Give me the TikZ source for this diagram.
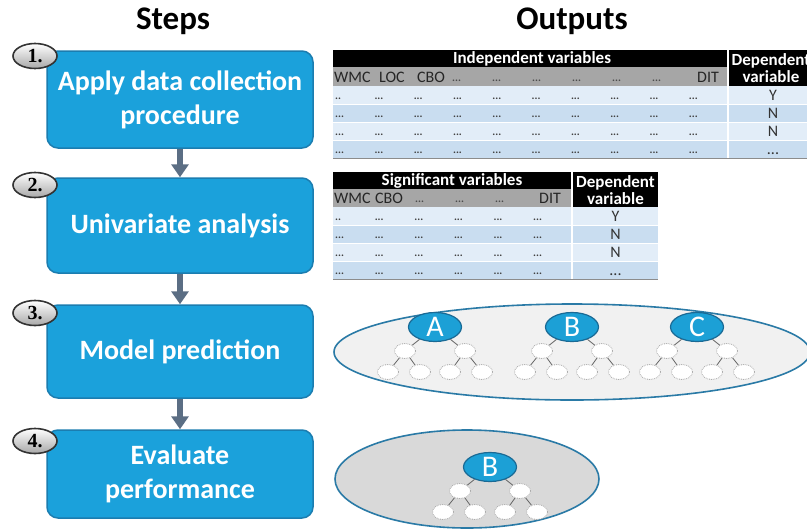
\documentclass[tikz,border=0pt]{standalone}
\usepackage{fontspec}
\setmainfont{Carlito}
\newfontfamily\numfont{Liberation Serif}
\usetikzlibrary{shapes.geometric,arrows.meta}

\definecolor{stepblue}{HTML}{1BA1DB}
\definecolor{stepedge}{HTML}{1B7DB0}
\definecolor{arrowgray}{HTML}{5B6E84}
\definecolor{badgeedge}{HTML}{333333}
\definecolor{badgegray}{HTML}{A8A8A8}
\definecolor{labgray}{HTML}{A6A6A6}
\definecolor{rowlight}{HTML}{E2EDF8}
\definecolor{rowdark}{HTML}{C9DDF0}
\definecolor{rootblue}{HTML}{1CA0D6}
\definecolor{rootedge}{HTML}{1A6A95}
\definecolor{ovaledge}{HTML}{2A7AA6}
\definecolor{ovallight}{HTML}{F1F1F1}
\definecolor{ovaldark}{HTML}{D9D9D9}
\definecolor{celltext}{HTML}{404040}

\newcommand\tdots{...}

% a small decision tree: name, x, y, letter
\newcommand\mytree[4]{%
  \node[rootnode] (#1) at (#2,#3) {#4};
  \node[leafnode] (#1a) at ({#2-30},{#3+24}) {};
  \node[leafnode] (#1b) at ({#2+30},{#3+24}) {};
  \node[leafnode] (#1aa) at ({#2-47},{#3+45}) {};
  \node[leafnode] (#1ab) at ({#2-15},{#3+45}) {};
  \node[leafnode] (#1ba) at ({#2+15},{#3+45}) {};
  \node[leafnode] (#1bb) at ({#2+47},{#3+45}) {};
  \draw[treeedge] (#1) -- (#1a);
  \draw[treeedge] (#1) -- (#1b);
  \draw[treeedge] (#1a) -- (#1aa);
  \draw[treeedge] (#1a) -- (#1ab);
  \draw[treeedge] (#1b) -- (#1ba);
  \draw[treeedge] (#1b) -- (#1bb);
}

\begin{document}
\begin{tikzpicture}[x=1pt,y=-1pt,
  stepbox/.style={draw=stepedge, line width=1.5pt, fill=stepblue, rounded corners=11pt,
    minimum width=266pt, text=white, align=center, inner sep=0pt,
    font=\bfseries\fontsize{28}{34}\selectfont},
  badge/.style={ellipse, draw=badgeedge, line width=1.6pt, top color=white, bottom color=badgegray,
    minimum width=44pt, minimum height=25pt, inner sep=0pt,
    font=\numfont\bfseries\fontsize{20}{20}\selectfont},
  flow/.style={draw=arrowgray, line width=6pt, -{Triangle[width=17pt,length=13pt]}},
  title/.style={font=\bfseries\fontsize{33}{33}\selectfont, inner sep=0pt},
  hdr/.style={text=white, font=\bfseries\fontsize{17}{17}\selectfont, inner sep=0pt, align=center},
  lab/.style={anchor=base west, inner sep=0pt, font=\fontsize{16}{16}\selectfont, text=black!85},
  labdots/.style={anchor=base west, inner sep=0pt, font=\bfseries\fontsize{11}{11}\selectfont, text=black!70},
  cell/.style={anchor=base west, inner sep=0pt, font=\bfseries\fontsize{11}{11}\selectfont, text=celltext},
  dep/.style={anchor=base, inner sep=0pt, font=\fontsize{16}{16}\selectfont, text=black!80},
  oval/.style={ellipse, draw=ovaledge, line width=1.6pt, inner sep=0pt},
  rootnode/.style={ellipse, draw=rootedge, line width=1.2pt, fill=rootblue, minimum width=53pt,
    minimum height=29pt, inner sep=0pt, text=white, font=\fontsize{30}{30}\selectfont},
  leafnode/.style={ellipse, draw=black!35, densely dotted, line width=0.8pt, fill=white,
    minimum width=21pt, minimum height=15pt, inner sep=0pt},
  treeedge/.style={draw=black!60, line width=0.8pt},
]
\useasboundingbox (0,0) rectangle (807,531);
\clip (0,0) rectangle (807,531);
\fill[white] (0,0) rectangle (807,531);

% column titles
\node[title] (tsteps) at (173,21) {Steps};
\node[title] (touts) at (572,21) {Outputs};

% the four steps
\node[stepbox, minimum height=97pt] (s1) at (180,99.5) {Apply data collection\\procedure};
\node[stepbox, minimum height=95pt] (s2) at (180,225.5) {Univariate analysis};
\node[stepbox, minimum height=93pt] (s3) at (180,351.5) {Model prediction};
\node[stepbox, minimum height=88pt] (s4) at (180,474) {Evaluate\\performance};

\node[badge] (b1) at (35,56) {1.};
\node[badge] (b2) at (35,185) {2.};
\node[badge] (b3) at (35,313) {3.};
\node[badge] (b4) at (35,441) {4.};

\draw[flow] (s1.south) -- (s2.north);
\draw[flow] (s2.south) -- (s3.north);
\draw[flow] (s3.south) -- (s4.north);

% ---- table of all variables ----
\fill[black] (333,50) rectangle (727,67);
\node[hdr] (t1ind) at (532,58.5) {Independent variables};
\fill[black] (729,50) rectangle (812,86);
\node[hdr] (t1dep) at (771,68.5) {Dependent\\variable};
\fill[labgray] (333,67) rectangle (727,86);
\foreach \r/\c in {1/rowlight,2/rowdark,3/rowlight,4/rowdark}
  \fill[\c] (333,{86+18*(\r-1)}) rectangle (812,{86+18*\r});
\foreach \r in {1,2,3}
  \draw[white, line width=0.8pt] (333,{86+18*\r}) -- (812,{86+18*\r});
\draw[white, line width=1.5pt] (728,86) -- (728,158);
\draw[black!45, line width=1pt] (333,158) -- (812,158);
\foreach \t/\x [count=\i] in {WMC/334,LOC/379,CBO/417}
  \node[lab] (t1c\i) at (\x,82) {\t};
\foreach \x [count=\i from 4] in {452,492,532,572,612,652}
  \node[labdots] (t1c\i) at (\x,81) {\tdots};
\node[lab] (t1c10) at (697,82) {DIT};
\foreach \r in {1,...,4}
  \foreach \c in {1,...,10}
    \node[cell] (t1d\r-\c) at ({335+39.3*(\c-1)},{99+18*(\r-1)}) {\ifnum\r\c=11 ..\else\tdots\fi};
\foreach \v [count=\r] in {Y,N,N,\tdots}
  \node[dep] (t1v\r) at (773,{100+18*(\r-1)}) {\v};

% ---- table of significant variables ----
\fill[black] (333,172) rectangle (571,189);
\node[hdr] (t2ind) at (452,180.5) {Significant variables};
\fill[black] (573,172) rectangle (658,207);
\node[hdr] (t2dep) at (615.5,190) {Dependent\\variable};
\fill[labgray] (333,189) rectangle (571,207);
\foreach \r/\c in {1/rowlight,2/rowdark,3/rowlight,4/rowdark}
  \fill[\c] (333,{207+18*(\r-1)}) rectangle (658,{207+18*\r});
\foreach \r in {1,2,3}
  \draw[white, line width=0.8pt] (333,{207+18*\r}) -- (658,{207+18*\r});
\draw[white, line width=1.5pt] (572,207) -- (572,279);
\draw[black!45, line width=1pt] (333,279) -- (658,279);
\foreach \t/\x [count=\i] in {WMC/334,CBO/375}
  \node[lab] (t2c\i) at (\x,203) {\t};
\foreach \x [count=\i from 3] in {415,455,495}
  \node[labdots] (t2c\i) at (\x,202) {\tdots};
\node[lab] (t2c6) at (539,203) {DIT};
\foreach \r in {1,...,4}
  \foreach \c in {1,...,6}
    \node[cell] (t2d\r-\c) at ({335+39.6*(\c-1)},{220+18*(\r-1)}) {\ifnum\r\c=11 ..\else\tdots\fi};
\foreach \v [count=\r] in {Y,N,N,\tdots}
  \node[dep] (t2v\r) at (615.5,{221+18*(\r-1)}) {\v};

% ---- predicted models ----
\node[oval, fill=ovallight, minimum width=476pt, minimum height=96pt] (o1) at (572,352) {};
\mytree{ta}{435}{327}{A}
\mytree{tb}{572}{327}{B}
\mytree{tc}{697}{327}{C}

% ---- selected model ----
\node[oval, fill=ovaldark, minimum width=264pt, minimum height=98pt] (o2) at (467,479) {};
\mytree{tbest}{490}{467}{B}
\end{tikzpicture}
\end{document}
